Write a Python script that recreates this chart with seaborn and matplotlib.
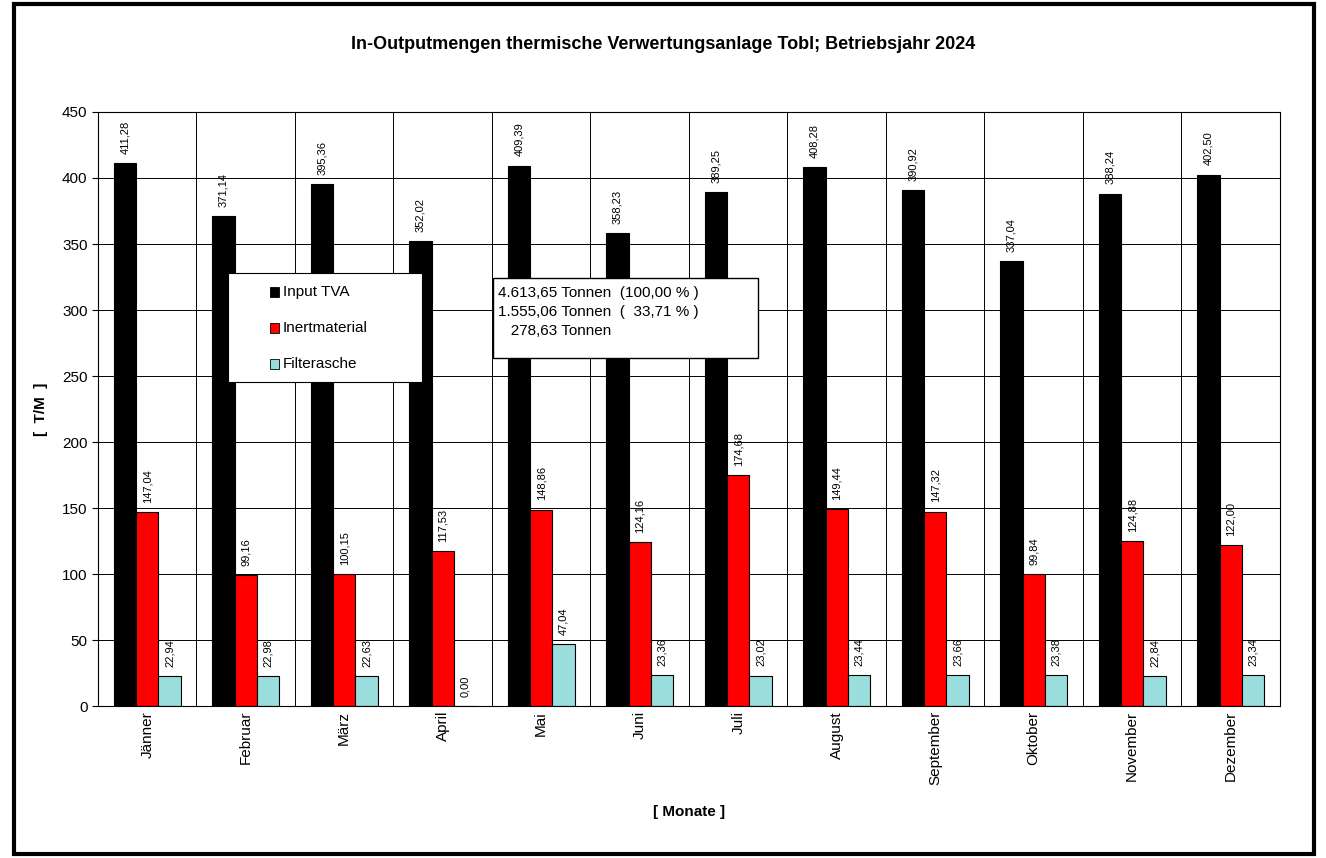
import matplotlib
matplotlib.use("Agg")
import matplotlib.pyplot as plt
import seaborn as sns
import pandas as pd
from matplotlib.patches import Rectangle

months = ["Jänner","Februar","März","April","Mai","Juni","Juli","August","September","Oktober","November","Dezember"]
input_tva = [411.28,371.14,395.36,352.02,409.39,358.23,389.25,408.28,390.92,337.04,388.24,402.50]
inert = [147.04,99.16,100.15,117.53,148.86,124.16,174.68,149.44,147.32,99.84,124.88,122.00]
filter_ = [22.94,22.98,22.63,0.00,47.04,23.36,23.02,23.44,23.66,23.38,22.84,23.34]
series = ["Input TVA","Inertmaterial","Filterasche"]
colors = ["#000000","#FF0000","#99DDDD"]

df = pd.DataFrame({
    "Monat": months*3,
    "Wert": input_tva+inert+filter_,
    "Serie": [series[0]]*12+[series[1]]*12+[series[2]]*12,
})

sns.set_style("white")
plt.rcParams['font.family'] = ['Liberation Sans', 'DejaVu Sans']
plt.rcParams['text.color'] = 'black'
plt.rcParams['xtick.color'] = 'black'
plt.rcParams['ytick.color'] = 'black'
plt.rcParams['axes.labelcolor'] = 'black'
fig = plt.figure(figsize=(13.26, 8.58), dpi=100)
ax = fig.add_axes([0.0739, 0.177, 0.8914, 0.6925])
sns.barplot(data=df, x="Monat", y="Wert", hue="Serie", hue_order=series, order=months,
            palette=colors, saturation=1, width=0.68, edgecolor="black", linewidth=0.8, ax=ax, legend=False)

for cont in ax.containers:
    for bar in cont:
        h = bar.get_height()
        ax.text(bar.get_x()+bar.get_width()/2, h+7, f"{h:.2f}".replace(".", ","),
                rotation=90, ha="center", va="bottom", fontsize=8)

ax.set_ylim(0, 450)
ax.set_xlim(-0.5, 11.5)
ax.set_yticks(range(0, 451, 50))
ax.tick_params(axis="y", labelsize=11, length=4, direction="out", left=True)
ax.tick_params(axis="x", labelsize=11, rotation=90, length=0)
ax.grid(axis="y", color="black", linewidth=0.7)
for i in range(12):
    ax.axvline(i+0.5, color="black", linewidth=0.7)
ax.set_axisbelow(True)
for s in ax.spines.values():
    s.set_color("black"); s.set_linewidth(0.8)
ax.set_xlabel("[ Monate ]", fontsize=11, fontweight="bold", labelpad=14)
ax.set_ylabel("[  T/M  ]", fontsize=11, fontweight="bold", labelpad=10)
fig.text(0.5, 0.948, "In-Outputmengen thermische Verwertungsanlage Tobl; Betriebsjahr 2024",
         ha="center", va="center", fontsize=13, fontweight="bold")

# legend box
lx0, ly0, lw, lh = 228/1326, 1-382/858, 194/1326, 109/858
fig.patches.append(Rectangle((lx0, ly0), lw, lh, transform=fig.transFigure, facecolor="white",
                             edgecolor="black", linewidth=0.8, zorder=5))
for i, (s, c) in enumerate(zip(series, colors)):
    y = 1-(292+i*36)/858
    fig.patches.append(Rectangle((270/1326, y-5/858), 9/1326, 10/858, transform=fig.transFigure,
                                 facecolor=c, edgecolor="black", linewidth=0.6, zorder=6))
    fig.text(283/1326, y, s, va="center", fontsize=11, zorder=7)

# summary box
fig.patches.append(Rectangle((493/1326, 1-358/858), 265/1326, 80/858, transform=fig.transFigure,
                             facecolor="white", edgecolor="black", linewidth=1, zorder=5))
for i, t in enumerate(["4.613,65 Tonnen  (100,00 % )", "1.555,06 Tonnen  (  33,71 % )", "   278,63 Tonnen"]):
    fig.text(498/1326, 1-(293+i*19)/858, t, va="center", fontsize=11, zorder=7)

# outer frame
fig.patches.append(Rectangle((14/1326, 4/858), 1300/1326, 850/858, transform=fig.transFigure,
                             facecolor="none", edgecolor="black", linewidth=3, zorder=10))
fig.savefig("out.png", dpi=100)
